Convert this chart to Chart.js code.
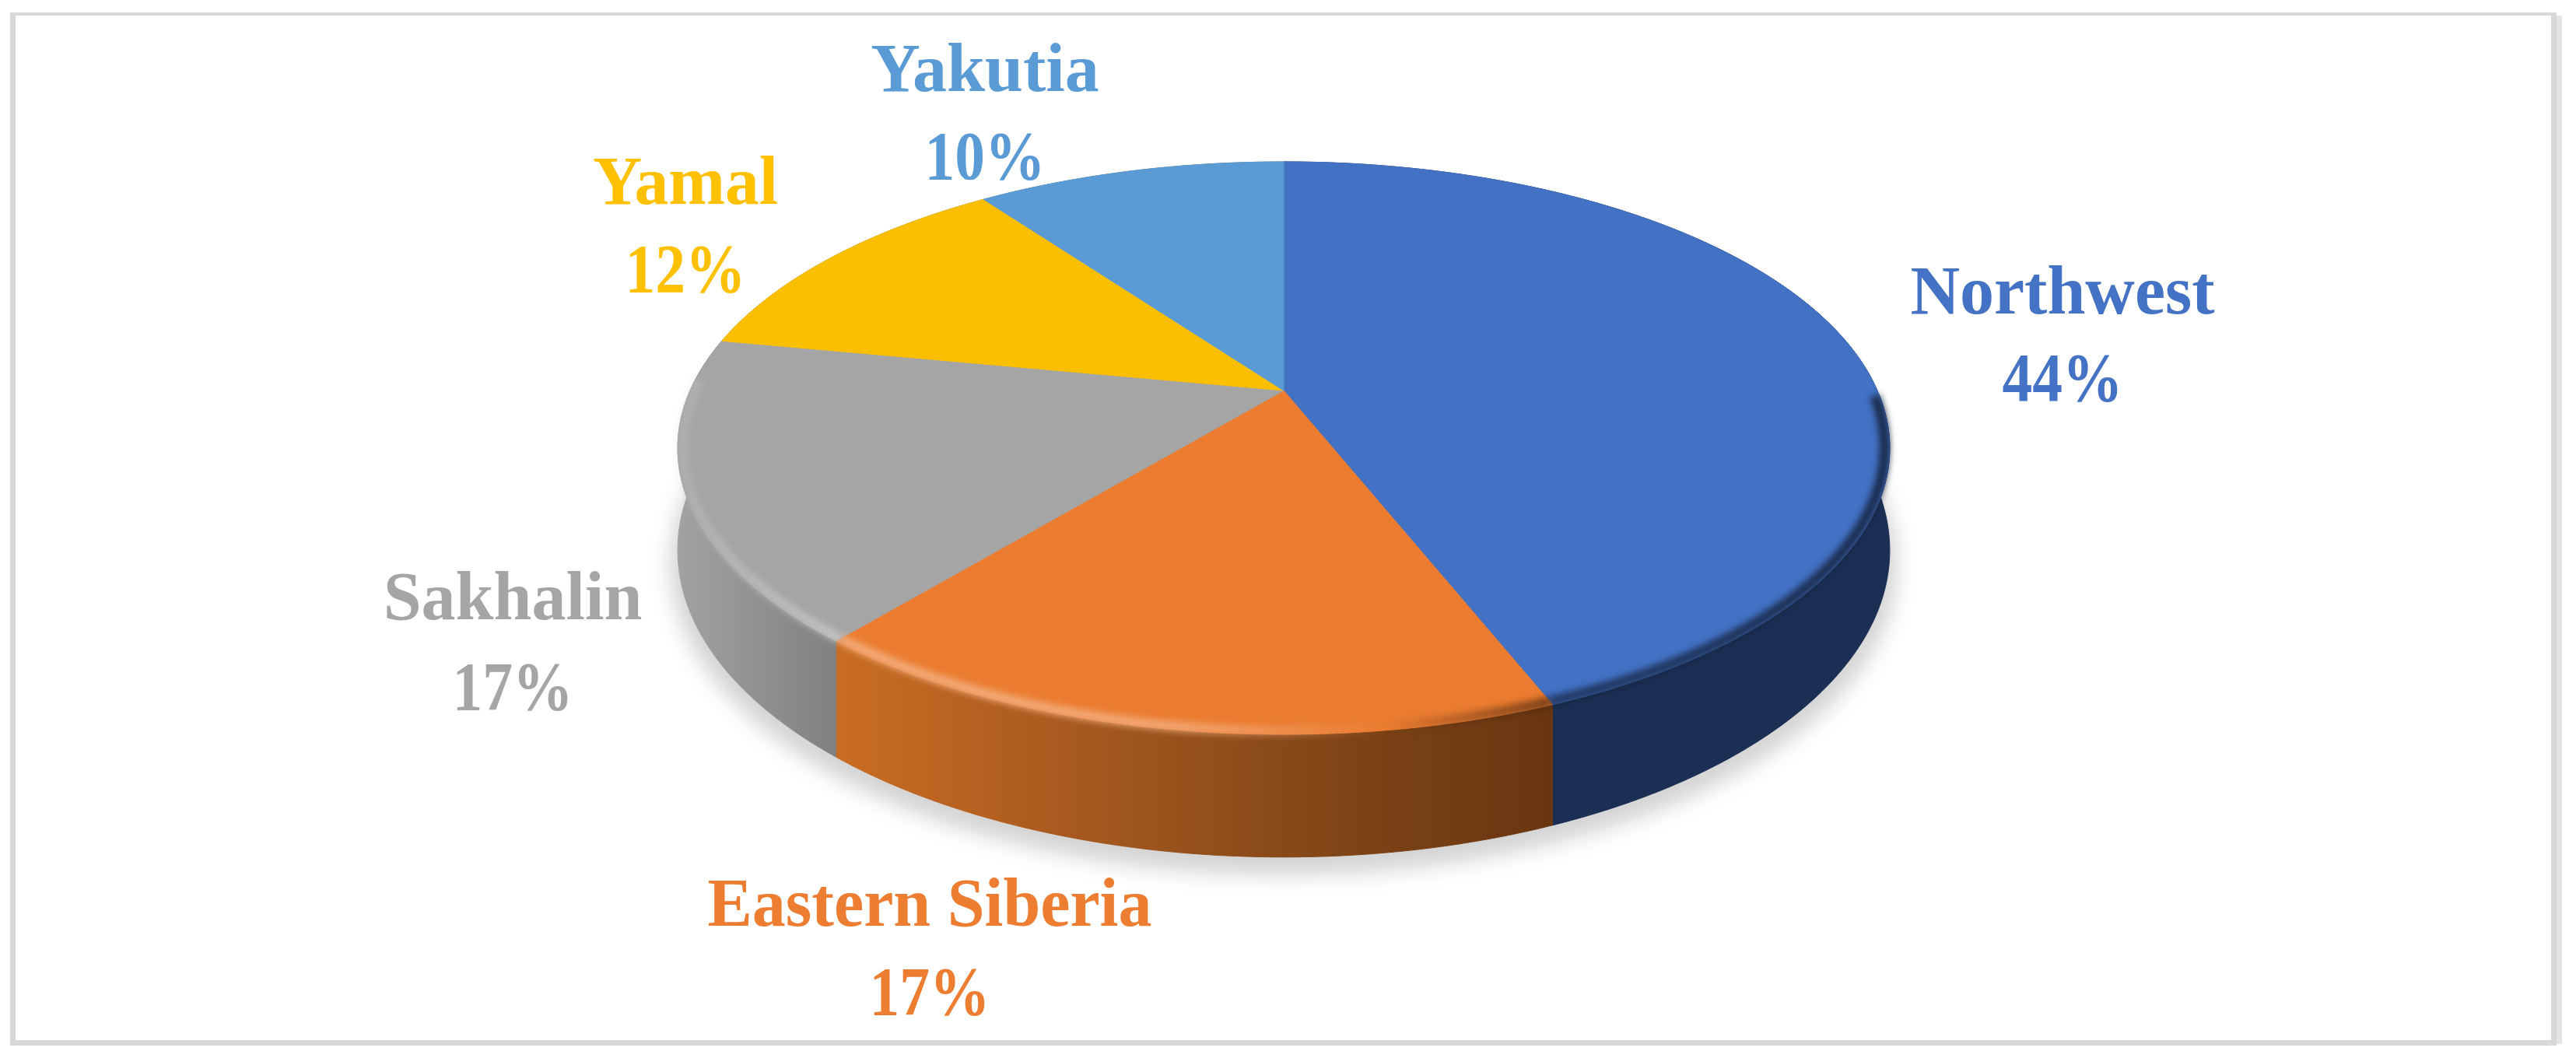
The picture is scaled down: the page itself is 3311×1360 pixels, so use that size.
<!DOCTYPE html>
<html>
<head>
<meta charset="utf-8">
<style>html,body{margin:0;padding:0;background:#fff}canvas{display:block}</style>
<script src="https://cdn.jsdelivr.net/npm/chart.js@4"></script>
</head>
<body>
<canvas id="c" width="3311" height="1360"></canvas>
<script>
const categories = ['Northwest', 'Eastern Siberia', 'Sakhalin', 'Yamal', 'Yakutia'];
const shares = [44, 17, 17, 12, 10];
const topColors = ['#4371C4', '#EB7C30', '#A5A5A5', '#FCBF00', '#5B9BD5'];
const labelColors = ['#4472C4', '#ED7D31', '#A5A5A5', '#FFC000', '#5B9BD5'];

// Perspective of the tilted disc
const P = {cx: 1650, a: 252.2, b: 502, c: -0.2011, A: 763, depth: 126};
function project(ang, r, drop) {
  const u = r * Math.cos(ang), v = r * Math.sin(ang), w = 1 + P.c * v;
  return [P.cx + P.A * u / w, (P.a * v + P.b) / w + (drop ? P.depth / w : 0)];
}
function trace(ctx, s, e, r, drop, first) {
  const n = Math.max(2, Math.ceil(Math.abs(e - s) / 0.006));
  for (let i = 0; i <= n; i++) {
    const p = project(s + (e - s) * i / n, r, drop);
    if (i === 0 && first) ctx.moveTo(p[0], p[1]); else ctx.lineTo(p[0], p[1]);
  }
}
function rgb(h) { return [1, 3, 5].map(i => parseInt(h.substr(i, 2), 16)); }

function wallFill(ctx, i) {
  const g = ctx.createLinearGradient(860, 0, 2440, 0);
  const x = v => (v - 860) / 1580;
  if (i === 0) { g.addColorStop(0, '#1B2E54'); g.addColorStop(1, '#1B2E54'); }
  else if (i === 1) {
    g.addColorStop(x(1084), '#C96C22'); g.addColorStop(x(1300), '#B05E20');
    g.addColorStop(x(1550), '#93501B'); g.addColorStop(x(1750), '#7D4316');
    g.addColorStop(x(1990), '#693611');
  } else {
    g.addColorStop(x(870), '#A2A2A2'); g.addColorStop(x(1084), '#7F7F7F');
  }
  return g;
}

const perspectivePie = {
  id: 'perspectivePie',
  beforeDraw(chart) {
    const ctx = chart.ctx;
    ctx.save();
    ctx.fillStyle = '#fff'; ctx.fillRect(0, 0, 3311, 1360);
    ctx.fillStyle = '#E4E4E4'; ctx.fillRect(3286, 20, 7, 1322);
    ctx.fillStyle = '#D8D8D8';
    ctx.fillRect(13, 16, 3273, 4);
    ctx.fillRect(13, 16, 7, 1328);
    ctx.fillRect(3279, 16, 7, 1328);
    ctx.fillRect(13, 1337, 3273, 7);
    ctx.restore();
  },
  beforeDatasetDraw(chart) {
    const ctx = chart.ctx, arcs = chart.getDatasetMeta(0).data;
    const full = [-Math.PI / 2, Math.PI * 1.5];
    ctx.save();
    // soft ground shadow
    ctx.save();
    ctx.filter = 'blur(13px)';
    ctx.fillStyle = 'rgba(0,0,0,0.17)';
    ctx.translate(0, 16);
    ctx.beginPath(); trace(ctx, full[0], full[1], 1.012, true, true); ctx.closePath(); ctx.fill();
    ctx.restore();
    // walls
    arcs.forEach((a, i) => {
      ctx.beginPath();
      trace(ctx, a.startAngle, a.endAngle, 1, false, true);
      trace(ctx, a.endAngle, a.startAngle, 1, true, false);
      ctx.closePath();
      ctx.fillStyle = wallFill(ctx, i);
      ctx.strokeStyle = ctx.fillStyle; ctx.lineWidth = 1;
      ctx.fill(); ctx.stroke();
    });
    // top surface
    arcs.forEach((a, i) => {
      ctx.beginPath();
      const c = project(0, 0, false);
      ctx.moveTo(c[0], c[1]);
      trace(ctx, a.startAngle, a.endAngle, 1, false, false);
      ctx.closePath();
      ctx.fillStyle = topColors[i];
      ctx.strokeStyle = topColors[i]; ctx.lineWidth = 1;
      ctx.fill(); ctx.stroke();
    });
    // rounded rim: light on the left front, dark on the right front
    ctx.filter = 'blur(4px)';
    ctx.lineWidth = 13; ctx.lineCap = 'butt';
    arcs.forEach((a, i) => {
      const s = Math.max(a.startAngle, 0.02), e = Math.min(a.endAngle, Math.PI + 0.04);
      if (e <= s) return;
      const [r, g, b] = rgb(topColors[i]);
      const hi = [r, g, b].map(v => Math.round(v + (255 - v) * 0.38));
      const col = al => `rgba(${hi[0]},${hi[1]},${hi[2]},${al})`;
      const dk = al => `rgba(${Math.round(r*.3)},${Math.round(g*.3)},${Math.round(b*.3)},${al})`;
      const x = v => (v - 860) / 1580;
      const gr = ctx.createLinearGradient(860, 0, 2440, 0);
      gr.addColorStop(0, col(0.25)); gr.addColorStop(x(1100), col(0.9)); gr.addColorStop(x(1500), col(0.85));
      gr.addColorStop(x(1780), col(0)); gr.addColorStop(x(1781), dk(0));
      gr.addColorStop(x(1990), dk(0.7)); gr.addColorStop(1, dk(0.9));
      ctx.strokeStyle = gr;
      ctx.beginPath();
      trace(ctx, s, e, 0.992, false, true);
      ctx.stroke();
    });
    ctx.restore();
    return false;
  },
  afterDraw(chart) {
    const ctx = chart.ctx;
    const spots = [[2651, 403, 515, 400], [1195, 1190, 1304, 571], [659, 796, 912, 338], [881, 262, 375, 238], [1266, 117, 230, 294]];
    ctx.save();
    ctx.textAlign = 'center'; ctx.textBaseline = 'alphabetic';
    ctx.font = 'bold 88px "Liberation Serif"';
    categories.forEach((name, i) => {
      const [x, y1, y2, w] = spots[i];
      ctx.fillStyle = labelColors[i];
      ctx.fillText(name, x, y1, w);
      ctx.fillText(shares[i] + '%', x, y2, 155);
    });
    ctx.restore();
  }
};

new Chart(document.getElementById('c'), {
  type: 'pie',
  data: {labels: categories, datasets: [{data: shares, backgroundColor: topColors, borderWidth: 0}]},
  options: {
    responsive: false, animation: false, devicePixelRatio: 1,
    rotation: 0,
    plugins: {legend: {display: false}, tooltip: {enabled: false}}
  },
  plugins: [perspectivePie]
});
</script>
</body>
</html>
